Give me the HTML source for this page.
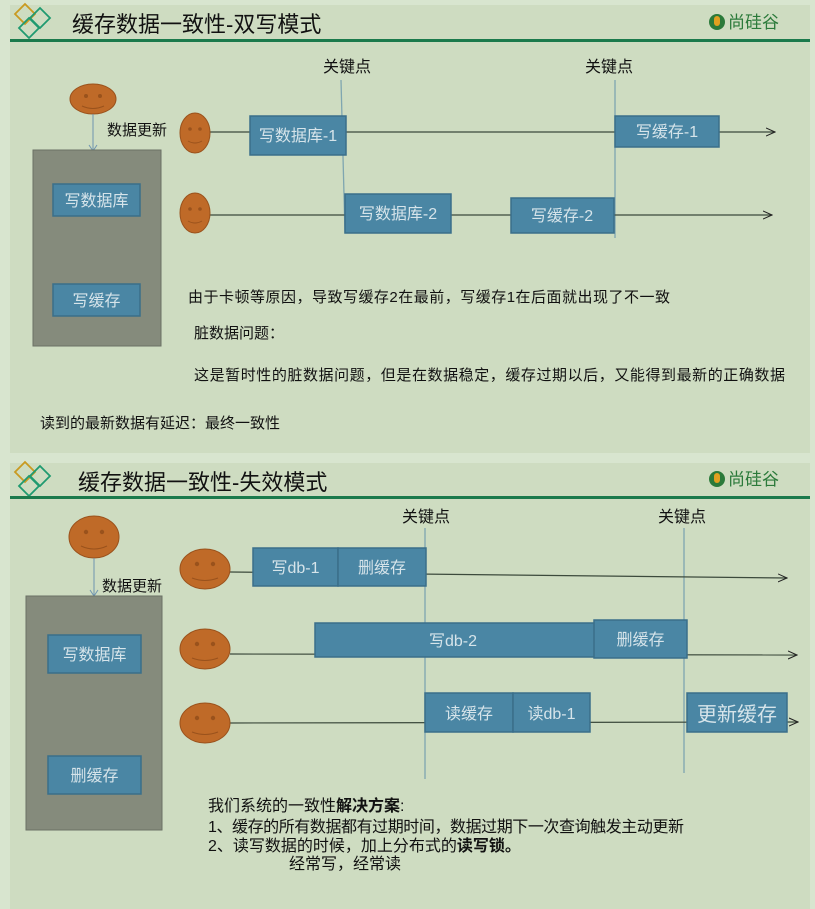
<!DOCTYPE html>
<html><head><meta charset="utf-8"><style>
html,body{margin:0;padding:0;background:#d8e5cf;}
svg{display:block;font-family:"Liberation Sans","Noto Sans CJK SC",sans-serif;}
.bx{fill:#4a86a4;stroke:#3a6f8a;stroke-width:1.5}
.bt{fill:#d6e4ea;font-size:16px;text-anchor:middle}
.t{fill:#111;font-size:15px}
.face{fill:#bf6a28;stroke:#9a521c;stroke-width:1}
.ln{stroke:#3c4a3c;stroke-width:1.2;fill:none}
.vl{stroke:#7fa6b0;stroke-width:1.3}
</style></head><body>
<svg width="815" height="909" viewBox="0 0 815 909">
<defs>
<marker id="a" markerWidth="10" markerHeight="10" refX="9" refY="5" orient="auto" markerUnits="userSpaceOnUse"><path d="M0,1 L9,5 L0,9" fill="none" stroke="#222" stroke-width="1"/></marker>
</defs>
<rect x="10" y="5" width="800" height="448" fill="#cedcc1"/>
<rect x="10" y="463" width="800" height="446" fill="#cedcc1"/>

<!-- header top -->
<path d="M25,4 L35,14 L25,24 L15,14Z" fill="none" stroke="#c99a20" stroke-width="1.8"/>
<path d="M40,8 L50,18 L40,28 L30,18Z" fill="none" stroke="#1f9a70" stroke-width="1.8"/>
<path d="M29,18 L39,28 L29,38 L19,28Z" fill="none" stroke="#1f9a70" stroke-width="1.8"/>
<text x="72" y="32" font-size="22" fill="#111">缓存数据一致性-双写模式</text>
<rect x="10" y="39" width="800" height="3" fill="#1b7a4c"/>
<circle cx="717" cy="22" r="8" fill="#2b7a3a"/><rect x="714" y="16" width="6" height="10" rx="3" fill="#e0a020"/>
<text x="728" y="28" font-size="17" fill="#2b7a3a">尚硅谷</text>

<!-- top diagram -->
<text x="323" y="72" class="t" style="font-size:16px">关键点</text>
<text x="585" y="72" class="t" style="font-size:16px">关键点</text>
<line x1="341" y1="80" x2="345" y2="233" class="vl"/>
<line x1="615" y1="80" x2="615" y2="238" class="vl"/>
<ellipse cx="93" cy="99" rx="23" ry="15" class="face"/>
<circle cx="86" cy="96" r="2" fill="#9a521c"/><circle cx="100" cy="96" r="2" fill="#9a521c"/>
<path d="M82,106 Q93,111 104,106" stroke="#9a521c" fill="none"/>
<line x1="93" y1="114" x2="93" y2="150" stroke="#6f95b0" stroke-width="1"/>
<path d="M89,145 L93,151 L97,145" stroke="#6f95b0" fill="none"/>
<text x="107" y="135" class="t">数据更新</text>
<rect x="33" y="150" width="128" height="196" fill="#858b7c" stroke="#6b7165"/>
<rect x="53" y="184" width="87" height="32" class="bx"/><text x="96.5" y="206" class="bt">写数据库</text>
<rect x="53" y="284" width="87" height="32" class="bx"/><text x="96.5" y="306" class="bt">写缓存</text>

<line x1="210" y1="132" x2="775" y2="132" class="ln" marker-end="url(#a)"/>
<line x1="210" y1="215" x2="772" y2="215" class="ln" marker-end="url(#a)"/>
<ellipse cx="195" cy="133" rx="15" ry="20" class="face"/>
<circle cx="190" cy="129" r="1.8" fill="#9a521c"/><circle cx="200" cy="129" r="1.8" fill="#9a521c"/>
<path d="M188,141 Q195,145 202,141" stroke="#9a521c" fill="none"/>
<ellipse cx="195" cy="213" rx="15" ry="20" class="face"/>
<circle cx="190" cy="209" r="1.8" fill="#9a521c"/><circle cx="200" cy="209" r="1.8" fill="#9a521c"/>
<path d="M188,221 Q195,225 202,221" stroke="#9a521c" fill="none"/>
<rect x="250" y="116" width="96" height="39" class="bx"/><text x="298" y="141" class="bt">写数据库-1</text>
<rect x="615" y="116" width="104" height="31" class="bx"/><text x="667" y="137" class="bt">写缓存-1</text>
<rect x="345" y="194" width="106" height="39" class="bx"/><text x="398" y="219" class="bt">写数据库-2</text>
<rect x="511" y="198" width="103" height="35" class="bx"/><text x="562" y="221" class="bt">写缓存-2</text>

<text x="188" y="302" class="t" textLength="482">由于卡顿等原因，导致写缓存2在最前，写缓存1在后面就出现了不一致</text>
<text x="194" y="338" class="t">脏数据问题：</text>
<text x="194" y="380" class="t" textLength="591">这是暂时性的脏数据问题，但是在数据稳定，缓存过期以后，又能得到最新的正确数据</text>
<text x="40" y="428" class="t">读到的最新数据有延迟：最终一致性</text>

<!-- header bottom -->
<path d="M25,462 L35,472 L25,482 L15,472Z" fill="none" stroke="#c99a20" stroke-width="1.8"/>
<path d="M40,466 L50,476 L40,486 L30,476Z" fill="none" stroke="#1f9a70" stroke-width="1.8"/>
<path d="M29,476 L39,486 L29,496 L19,486Z" fill="none" stroke="#1f9a70" stroke-width="1.8"/>
<text x="78" y="490" font-size="22" fill="#111">缓存数据一致性-失效模式</text>
<rect x="10" y="496" width="800" height="3" fill="#1b7a4c"/>
<circle cx="717" cy="479" r="8" fill="#2b7a3a"/><rect x="714" y="473" width="6" height="10" rx="3" fill="#e0a020"/>
<text x="728" y="485" font-size="17" fill="#2b7a3a">尚硅谷</text>

<!-- bottom diagram -->
<text x="402" y="522" class="t" style="font-size:16px">关键点</text>
<text x="658" y="522" class="t" style="font-size:16px">关键点</text>
<line x1="425" y1="528" x2="425" y2="779" class="vl"/>
<line x1="684" y1="528" x2="684" y2="773" class="vl"/>
<ellipse cx="94" cy="537" rx="25" ry="21" class="face"/>
<circle cx="86" cy="532" r="2.2" fill="#9a521c"/><circle cx="102" cy="532" r="2.2" fill="#9a521c"/>
<path d="M81,546 Q94,552 107,546" stroke="#9a521c" fill="none"/>
<line x1="94" y1="558" x2="94" y2="596" stroke="#6f95b0" stroke-width="1"/>
<path d="M90,590 L94,596 L98,590" stroke="#6f95b0" fill="none"/>
<text x="102" y="591" class="t">数据更新</text>
<rect x="26" y="596" width="136" height="234" fill="#858b7c" stroke="#6b7165"/>
<rect x="48" y="635" width="93" height="38" class="bx"/><text x="94.5" y="660" class="bt">写数据库</text>
<rect x="48" y="756" width="93" height="38" class="bx"/><text x="94.5" y="781" class="bt">删缓存</text>

<line x1="230" y1="572" x2="787" y2="578" class="ln" marker-end="url(#a)"/>
<line x1="230" y1="654" x2="797" y2="655" class="ln" marker-end="url(#a)"/>
<line x1="230" y1="723" x2="798" y2="722" class="ln" marker-end="url(#a)"/>
<ellipse cx="205" cy="569" rx="25" ry="20" class="face"/>
<circle cx="197" cy="564" r="2.2" fill="#9a521c"/><circle cx="213" cy="564" r="2.2" fill="#9a521c"/>
<path d="M192,578 Q205,583 218,578" stroke="#9a521c" fill="none"/>
<ellipse cx="205" cy="649" rx="25" ry="20" class="face"/>
<circle cx="197" cy="644" r="2.2" fill="#9a521c"/><circle cx="213" cy="644" r="2.2" fill="#9a521c"/>
<path d="M192,658 Q205,663 218,658" stroke="#9a521c" fill="none"/>
<ellipse cx="205" cy="723" rx="25" ry="20" class="face"/>
<circle cx="197" cy="718" r="2.2" fill="#9a521c"/><circle cx="213" cy="718" r="2.2" fill="#9a521c"/>
<path d="M192,732 Q205,737 218,732" stroke="#9a521c" fill="none"/>
<rect x="253" y="548" width="85" height="38" class="bx"/><text x="295.5" y="573" class="bt">写db-1</text>
<rect x="338" y="548" width="88" height="38" class="bx"/><text x="382" y="573" class="bt">删缓存</text>
<rect x="315" y="623" width="280" height="34" class="bx"/><text x="453" y="646" class="bt">写db-2</text>
<rect x="594" y="620" width="93" height="38" class="bx"/><text x="640.5" y="645" class="bt">删缓存</text>
<rect x="425" y="693" width="88" height="39" class="bx"/><text x="469" y="719" class="bt">读缓存</text>
<rect x="513" y="693" width="77" height="39" class="bx"/><text x="551.5" y="719" class="bt">读db-1</text>
<rect x="687" y="693" width="100" height="39" class="bx"/><text x="737" y="721" class="bt" style="font-size:20px">更新缓存</text>

<text x="208" y="811" class="t" style="font-size:16px">我们系统的一致性<tspan font-weight="bold">解决方案</tspan>:</text>
<text x="208" y="832" class="t" style="font-size:16px" textLength="476">1、缓存的所有数据都有过期时间，数据过期下一次查询触发主动更新</text>
<text x="208" y="851" class="t" style="font-size:16px">2、读写数据的时候，加上分布式的<tspan font-weight="bold">读写锁。</tspan></text>
<text x="289" y="869" class="t" style="font-size:16px">经常写，经常读</text>
</svg>
</body></html>
